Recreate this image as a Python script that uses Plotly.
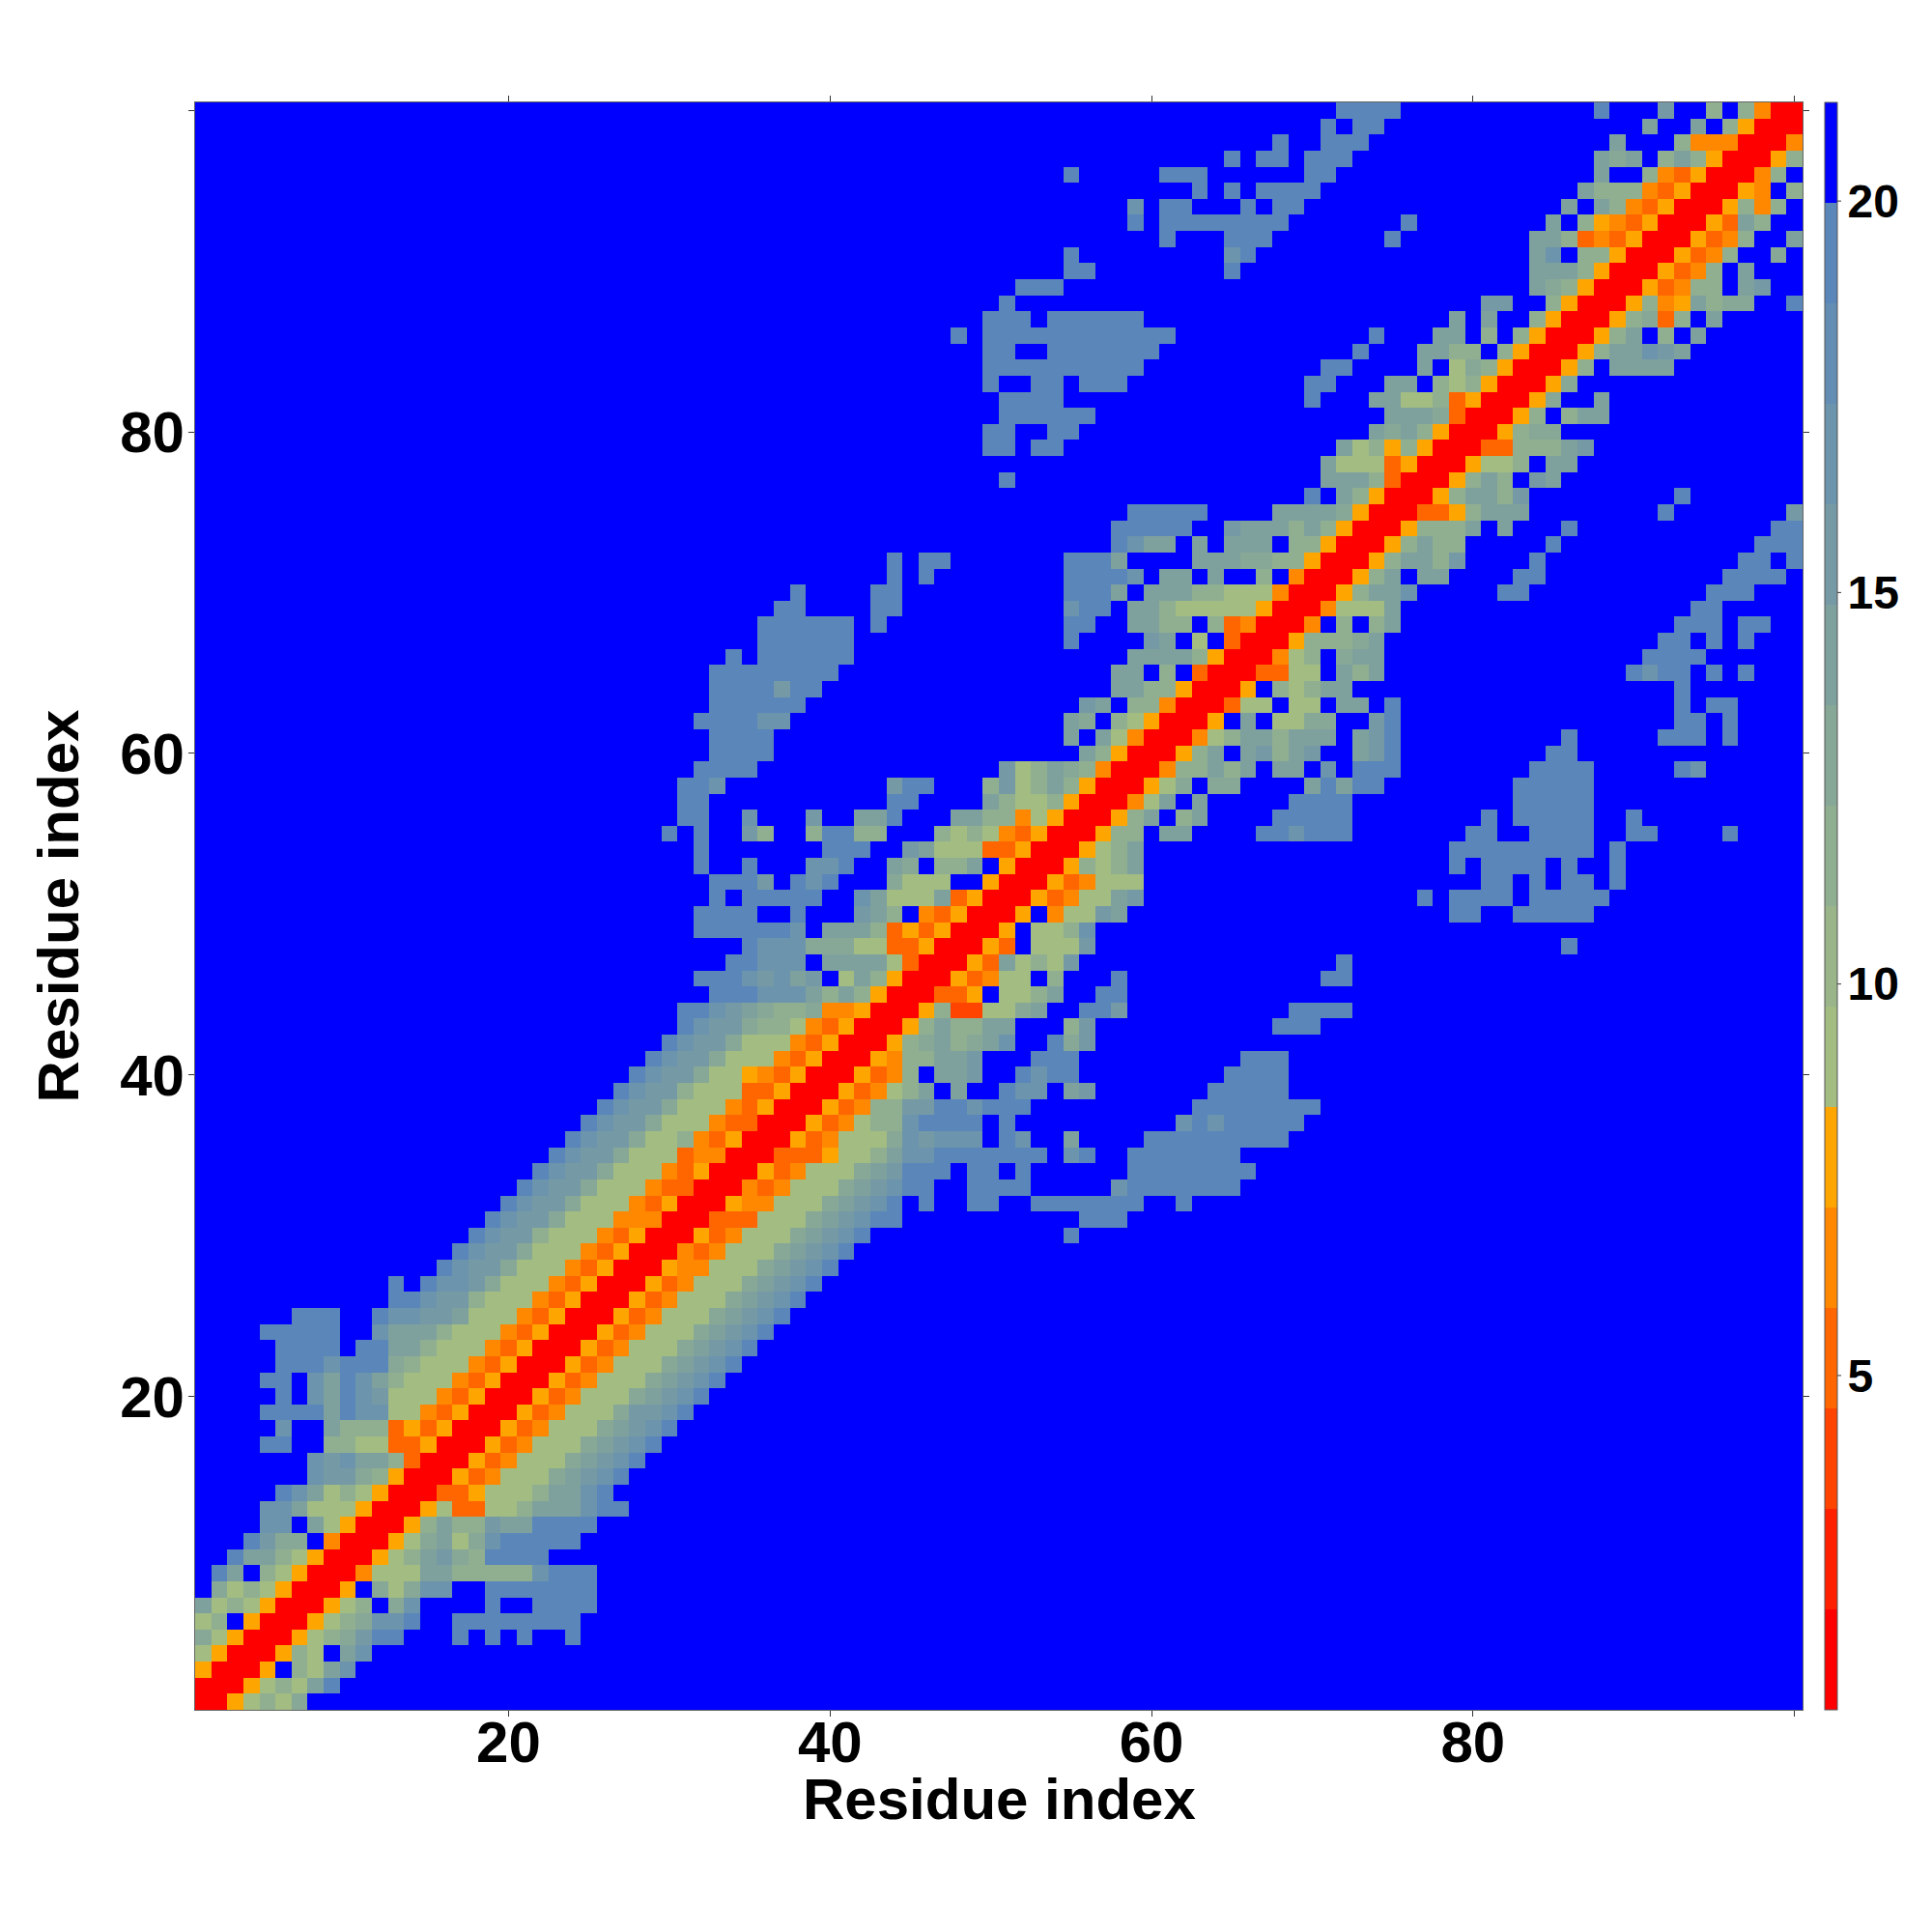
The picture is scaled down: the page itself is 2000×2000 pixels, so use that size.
import plotly.graph_objects as go

# Each entry is one row of the map, bottom row (residue 1) first.
# "col:codes" puts distance-band codes from that column on; columns not listed are beyond the top band.
ROW_CELLS = [
"1:0057879",
"1:0005787ad",
"1:50005.87ac",
"1:7500058 7.ac",
"1:9750005789bdd 17:d 19:d 21:d 24:d",
"1:78.50005789ccd 17:dddddddd",
"1:a7875000578.9c 19:d 22:dddd",
"2:97875000 5.979cc 19:ddddddd",
"2:da.8750004777aa88888cddd",
"3:daa875000578ab98dddd",
"4:db99.4000579a79cddddd",
"5:cc.a7500058a88baadddd",
"5:cca77750005733778aaacdd",
"6:dca78750003357778aacd",
"8:cbb985000534777 9abcd",
"8:cbcaa83000534777 9abcd",
"5:dd 9:887733 5000 534 777 9abcd",
"6:c 9:a88835 35000534777 9abcd",
"5:ddddadcc7743 5000 534777 9bbcd",
"6:d 8:cadcb777435000534777 9abcd",
"5:dd 8:cadca8777435000534777 9abcd",
"6:dddcddd98777435000534777 9abcd",
"6:dddd.ddaa8777435000534777 9abcd",
"5:ddddd..caaa8777435000534777 9abcd",
"7:ddd..dccbba777435000534777 9abcd",
"13:ddcbb8777435000534777 9abcd",
"13:d.dccb9777435000534777 9abcd",
"16:dcbb9777435000544777 9abcd",
"17:dcbb9777435000434777 9abcd",
"18:dcbb8777435000534777 9abcd 55:d",
"19:dcbb9777444000333777 9abcdd 56:ddd",
"20:dcbb9777435000544777 9abcd.d 49:dd 53:ddddddd 62:d",
"21:dcbb9777433000434777 9abcdd 49:dddd 58:cddddddd",
"22:dcbb9777435000534777 9abddd 49:dd.d 59:dddddddd",
"23:dcbb9777344000333577 8acc ddddddd 55:cd 59:ddddddd",
"24:dcbb9778435000534777 9cbccc.dc 55:a 60:ddddddddd",
"25:dcbb9777433000534 788cdddd.d 62:cdcddddd",
"26:dcbb9777435000534 88bb ddcddd 63:dddddddd",
"27:dcbb8777335000534 78a.a..dcc.ab 64:ddddd",
"28:dcbb977 5435000534 8.aab..dcdd 65:dddd",
"29:dcbb977743500054 88aab 53:ddd 66:ddd",
"30:dcbb9777435000589a89ac 54:d9b",
"31:dcbb9887435000 5 8a88aa 55:8b 68:ddd",
"31:ddcba988944 5000 5 822 77 9a 56:ddb 69:dddd",
"33:dddccca8a85000335.778a 57:dd",
"32:dddcbcab.7a85000534 77.8 58:d 71:dd",
"34:ddccc.aaaa73000 53a787b 72:d",
"35:dccc9997733 5000 53.777b 86:d",
"32:dddddd c.aaa8 3535 000 5.778c",
"32:dddd..d...ba8.4350005.477ba 79:dd 83:ddddd",
"33:d.ddddd..ca777a35000 534 77ab 77:d 79:dddd 84:ddddd",
"33:dddb.dcd...9777..5000534777 81:dd 84:d 86:dd 89:d",
"32:d 35:d 39:ccd 44:a9.88a.5000 58 78a 79:d 81:dddd 86:d 89:d",
"32:d 40:ddd 45:ba77733 5000 5 78a 79:ddddddddd 89:d",
"30:d 32:d 35:b8 39:8dd88 47:87874 35 000 588 61:aa 67:ddcddd 80:dd 84:dddd 90:dd 96:d",
"31:dd 35:c 39:b 42:aad 48:aa88475 000 58a 62:8a 68:ddddd 81:d 83:ddddd 90:d",
"31:dd 44:dd 50:a87785000 47a.a 69:dddd 83:ddddd",
"31:ddc 44:bdd 50:8b78a85000 579.99 70:adadd 83:ddddd",
"32:dddd 51:b78a984000 488a8a.aa.c.ddd 84:dddd 93:dc",
"33:dddd 56:a85000 58a.ab8ab..abd 85:dd",
"33:dddd 55:a.a74000 478aa8aaa.abd 86:d 92:ddd 96:d",
"32:ddddcc 55:a9.875000 5.a.7799..bd 93:dd 96:d",
"33:dddddd 56:ba.884000 377.77.aa.d 93:d 95:dd",
"33:ddddbdd 58:aa885000 5.878aa 93:d",
"33:dddddddd 58:aa.8.3000 3377.a8a 90:dcdd 95:d 97:d",
"34:d 36:dddddd 59:aaaa85000 478.9aa 91:dddd",
"36:dddddd 55:d 60:ba.7.3000 58889a 92:dd 95:d 97:d",
"36:dddddd 43:d 55:dd 59:aa88.83 4000 4.8.8a 93:ddd 97:dd",
"37:dd 43:dd 55:cdd 59:aa8777775000 4777a 94:dd",
"38:d 43:dd 55:ddda.aaa88777 4000 58aac 82:dd 95:ddd",
"44:d 46:d 55:ddddc.aa.a..8.4000 58a.aa 83:dd 96:dddd",
"44:d 46:dd 55:ddda....aaa99885000 58aa8b 84:d 97:dd 100:d",
"58:dcaa.a.aaa.885000 58a88 85:d 98:ddd",
"58:ddddd..baaa8a85000 5888a.a 86:d 99:dd",
"59:ddddd 68:aaaa95000 335 8aaa 92:d 100:b",
"70:d.a85000 58aa8b 93:d",
"51:d 71:aaa83000 58a8.ba",
"71:a77735000 5778.aa",
"50:dd 53:dd 72:a78585000 33888ab",
"50:dd 54:dd 74:a9a85000 5899",
"51:dddddd 75:aaa93000 58.8aa",
"51:dddd 70:d 74:aa77835000 59..a",
"50:d 53:dd 56:ddd 70:dd 75:aa.8785000 59",
"50:dddddddddd 71:dd 77:a.7985000 58.aaaa",
"50:dd 54:ddddddd 73:d 77:aa88.85000 58aacba",
"48:d 50:dddddddddddd 74:d 78:aa.8.85000 58a.8.a",
"50:ddd 54:dddddd 79:a.a..85000 58938.a",
"51:d 81:bb..85000 5845a899 100:d",
"52:ddd 84:a985000 53488.ab",
"55:dd 65:d 84:aaa85000 5348.a",
"55:d 65:cd 84:ac.885000 5348..9",
"61:d 65:ddd 75:d 84:aa83435000 5348..a",
"59:d 61:dddddddd 76:d 85:a.85435000 53a8",
"59:c 61:dd 66:d 68:dd 86:a.a8435000 5848",
"63:d 65:d 67:dddd 87:a888435000 54.8",
"55:d 61:ddd 70:dd 88:a..8435000 48",
"65:d 67:dd 70:ddd 88:a9a.8a85000 58",
"68:d 71:ddd 89:a 93:84440004",
"71:d 73:dd 91:a 94:a.85000",
"72:dddd 88:d 92:b 95:8.8400",
]

CODE_TO_BAND = {"0": 0, "2": 2, "3": 3, "4": 4, "5": 5, "7": 6, "8": 8, "9": 9,
                "a": 10, "b": 11, "c": 12, "d": 14, ".": 15}
BAND_COLORS = ["#ff0000", "#ff2000", "#ff4400", "#ff6600", "#ff8800", "#ffa500",
               "#a2bc82", "#99b589", "#90af90", "#87a897", "#7ea19e", "#759aa5",
               "#6c94ac", "#638db3", "#5a86ba", "#0000ff"]
VALUE_MIN = 0.73
VALUE_MAX = 21.26
RESIDUES = list(range(1, 101))
AXIS_TICKS = [20, 40, 60, 80, 100]
AXIS_TICK_TEXT = ["20", "40", "60", "80", ""]
BAR_TICKS = [5, 10, 15, 20]
AXIS_TITLE = "Residue index"

band_width = (VALUE_MAX - VALUE_MIN) / len(BAND_COLORS)


def parse_row(text):
    row = [VALUE_MAX - band_width / 2] * 100
    cursor = 0
    for token in text.split():
        if ":" in token:
            start, token = token.split(":")
            cursor = int(start) - 1
        for code in token:
            band = CODE_TO_BAND[code]
            row[cursor] = VALUE_MIN + band_width * (band + 0.5)
            cursor += 1
    return row


z = [parse_row(t) for t in ROW_CELLS]

colorscale = []
n = len(BAND_COLORS)
for i, c in enumerate(BAND_COLORS):
    colorscale.append([i / n, c])
    colorscale.append([(i + 1) / n, c])

FONT = "Liberation Sans, Arial, sans-serif"
PLOT_WIDTH = 2000 - 201.5 - 134
BAR_X = 1.0138
BAR_THICKNESS = 13
title_font = dict(family=FONT, size=60, color="black", weight="bold")

fig = go.Figure(go.Heatmap(
    x=RESIDUES, y=RESIDUES, z=z, zmin=VALUE_MIN, zmax=VALUE_MAX,
    colorscale=colorscale, zsmooth=False, hoverongaps=False,
    colorbar=dict(
        thickness=BAR_THICKNESS, thicknessmode="pixels", len=1, lenmode="fraction",
        x=BAR_X, xanchor="left", y=0.5, yanchor="middle", xpad=0, ypad=0,
        outlinewidth=1, outlinecolor="#555555", borderwidth=0,
        tickmode="array", tickvals=BAR_TICKS, ticks="",
        tickfont=dict(family=FONT, size=48, color="black", weight="bold"),
    ),
))

# short outside tick marks of the colour bar, on the bar's own value scale
bar_right = BAR_X + BAR_THICKNESS / PLOT_WIDTH
for v in BAR_TICKS:
    frac = (v - VALUE_MIN) / (VALUE_MAX - VALUE_MIN)
    fig.add_shape(type="line", xref="paper", yref="paper",
                  x0=bar_right, x1=bar_right + 4 / PLOT_WIDTH, y0=frac, y1=frac,
                  line=dict(color="#333333", width=1))

axis = dict(
    range=[0.5, 100.5], tickmode="array", tickvals=AXIS_TICKS, ticktext=AXIS_TICK_TEXT,
    ticks="outside", ticklen=6, tickwidth=1, tickcolor="#333333",
    showline=True, linewidth=1, linecolor="#666666", mirror="ticks",
    showgrid=False, zeroline=False,
    tickfont=dict(family=FONT, size=60, color="black", weight="bold"),
)

fig.update_layout(
    width=2000, height=2000,
    margin=dict(l=201.5, r=134, t=106, b=230, pad=0),
    paper_bgcolor="white", plot_bgcolor="white",
    xaxis=dict(axis, ticklabelstandoff=-25),
    yaxis=dict(axis, ticklabelstandoff=-8,
               title=dict(text=AXIS_TITLE, standoff=23, font=title_font)),
    annotations=[dict(text=AXIS_TITLE, xref="paper", yref="paper", x=0.5, y=-0.0553,
                      xanchor="center", yanchor="middle", showarrow=False, font=title_font)],
)

fig.write_html("out.html", config={"displayModeBar": False},
               post_script="document.body.style.margin='0';")
